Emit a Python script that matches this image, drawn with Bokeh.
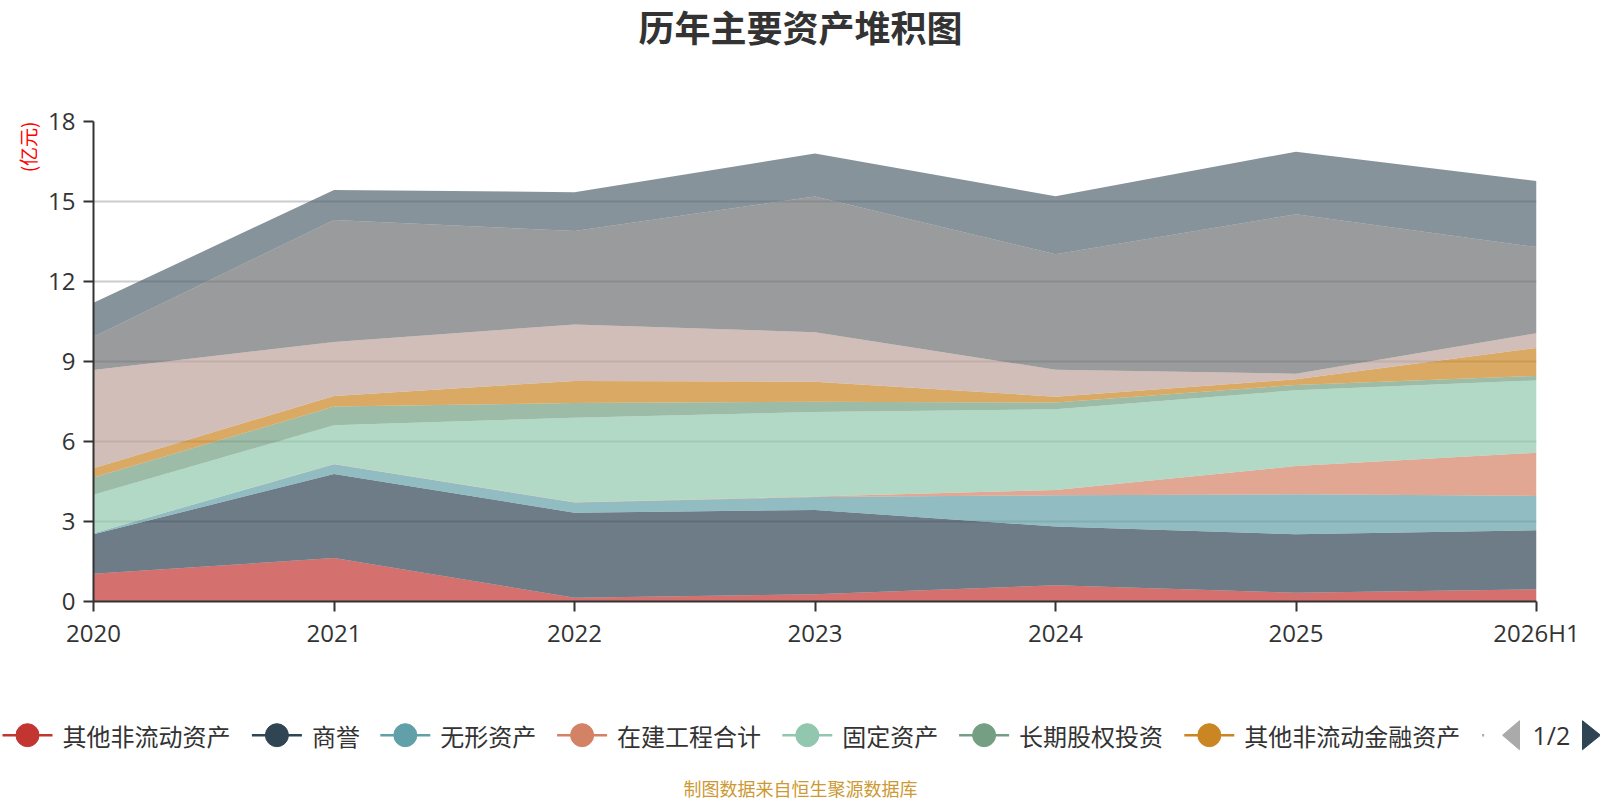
from bokeh.plotting import figure
from bokeh.models import Range1d, FixedTicker, ColumnDataSource, Title
from bokeh.layouts import column
from bokeh.embed import file_html
from bokeh.resources import INLINE
from bokeh.core.properties import value

# ---------------- data (亿元) ----------------
years = ["2020", "2021", "2022", "2023", "2024", "2025", "2026H1"]

other_noncurrent_assets = [1.04, 1.63, 0.14, 0.27, 0.61, 0.33, 0.46]   # 其他非流动资产
goodwill = [1.48, 3.15, 3.19, 3.16, 2.20, 2.19, 2.21]                  # 商誉
intangible_assets = [0.04, 0.37, 0.38, 0.49, 1.17, 1.50, 1.29]         # 无形资产
construction_in_progress = [0.00, 0.01, 0.01, 0.02, 0.20, 1.06, 1.62]  # 在建工程合计
fixed_assets = [1.44, 1.45, 3.17, 3.17, 3.03, 2.84, 2.71]              # 固定资产
long_term_equity_inv = [0.65, 0.70, 0.55, 0.38, 0.25, 0.20, 0.17]      # 长期股权投资
other_noncurrent_fin = [0.35, 0.40, 0.83, 0.75, 0.22, 0.21, 1.05]      # 其他非流动金融资产
page2_series_a = [3.68, 2.02, 2.12, 1.86, 1.01, 0.21, 0.55]            # legend page 2
page2_series_b = [1.25, 4.58, 3.50, 5.09, 4.33, 5.98, 3.23]            # legend page 2
page2_series_c = [1.27, 1.12, 1.46, 1.61, 2.18, 2.35, 2.48]            # legend page 2

legend_names = ["其他非流动资产", "商誉", "无形资产", "在建工程合计",
                "固定资产", "长期股权投资", "其他非流动金融资产"]
y_ticks = [0, 3, 6, 9, 12, 15, 18]

colors = ["#c23531", "#2f4554", "#61a0a8", "#d48265", "#91c7ae",
          "#749f83", "#ca8622", "#bda29a", "#6e7074", "#546570"]

series = [other_noncurrent_assets, goodwill, intangible_assets, construction_in_progress,
          fixed_assets, long_term_equity_inv, other_noncurrent_fin,
          page2_series_a, page2_series_b, page2_series_c]
keys = ["s%d" % i for i in range(len(series))]
data = {"x": list(range(len(years)))}
for k, s in zip(keys, series):
    data[k] = s
source = ColumnDataSource(data)

# ---------------- layout constants (pixels) ----------------
W = 1600
H_TOP = 90
H_LEG = 92
H_MAIN = 800 - H_TOP - H_LEG
B_LEFT, B_RIGHT, B_TOP = 93, 64, 31
FRAME_H = 480
B_BOTTOM = H_MAIN - B_TOP - FRAME_H

TXT = "#333333"
CJK = "Noto Sans CJK SC"


def blank(height):
    f = figure(width=W, height=height, x_range=Range1d(0, W), y_range=Range1d(height, 0),
               output_backend="svg", toolbar_location=None, min_border=0,
               x_axis_type=None, y_axis_type=None)
    f.outline_line_color = None
    f.grid.visible = False
    f.frame_align = False
    return f


# ---------------- title strip ----------------
top = blank(H_TOP)
top.text(x=W / 2, y=25, text=["历年主要资产堆积图"], text_font=value(CJK),
         text_font_size="36px", text_font_style="bold", text_color=TXT,
         text_align="center", text_baseline="middle")

# ---------------- main chart ----------------
p = figure(width=W, height=H_MAIN, x_range=Range1d(0, len(years) - 1),
           y_range=Range1d(0, 18), output_backend="svg", toolbar_location=None,
           min_border_left=B_LEFT, min_border_right=B_RIGHT,
           min_border_top=B_TOP, min_border_bottom=B_BOTTOM)
p.frame_align = False
p.outline_line_color = None

p.varea_stack(stackers=keys, x="x", color=colors, fill_alpha=0.7, source=source)

p.xgrid.visible = False
p.ygrid.grid_line_color = "#cccccc"
p.ygrid.grid_line_width = 2
p.ygrid.ticker = FixedTicker(ticks=y_ticks)

p.xaxis.ticker = FixedTicker(ticks=list(range(len(years))))
p.xaxis.major_label_overrides = {i: y for i, y in enumerate(years)}
p.yaxis.ticker = FixedTicker(ticks=y_ticks)
for ax in (p.xaxis, p.yaxis):
    ax.axis_line_color = "#333333"
    ax.axis_line_width = 2
    ax.major_tick_line_color = "#333333"
    ax.major_tick_line_width = 2
    ax.major_tick_out = 10
    ax.major_tick_in = 0
    ax.minor_tick_line_color = None
    ax.major_label_text_font = "Open Sans"
    ax.major_label_text_font_size = "24px"
    ax.major_label_text_color = TXT
p.xaxis.major_label_standoff = 4
p.yaxis.major_label_standoff = 8

p.add_layout(Title(text="(亿元)", align="right", text_font=CJK, text_font_size="19px",
                   text_font_style="normal", text_color="#ff0000"), "left")

# ---------------- legend strip ----------------
lg = blank(H_LEG)
ly = 26.7
xpos = 2.0
char_w = 24.2
for name, c in zip(legend_names, colors):
    lg.segment(x0=xpos, y0=ly, x1=xpos + 50, y1=ly, line_color=c, line_width=2.5)
    lg.scatter(x=xpos + 25, y=ly, size=23, marker="circle", fill_color=c, line_color=c)
    lg.text(x=xpos + 60, y=ly, text=[name], text_font=value(CJK), text_font_size="24px",
            text_color=TXT, text_align="left", text_baseline="middle")
    xpos += 80 + char_w * len(name)
# start of the next (paged-out) legend item
lg.segment(x0=xpos, y0=ly, x1=xpos + 2, y1=ly, line_color=colors[7], line_width=2.5)

# pager
lg.patch(x=[1502, 1519, 1519], y=[ly, ly - 14.5, ly + 14.5], color="#aaaaaa")
lg.text(x=1532, y=ly, text=["1/2"], text_font=value("Open Sans"), text_font_size="25px",
        text_color=TXT, text_align="left", text_baseline="middle")
lg.patch(x=[1582, 1582, 1600], y=[ly - 14.5, ly + 14.5, ly], color="#2f4554")

lg.text(x=W / 2, y=79, text=["制图数据来自恒生聚源数据库"], text_font=value(CJK),
        text_font_size="18px", text_color="#cc9933", text_align="center",
        text_baseline="middle")

layout = column(top, p, lg, spacing=0)
open("out.html", "w").write(file_html(layout, INLINE))
